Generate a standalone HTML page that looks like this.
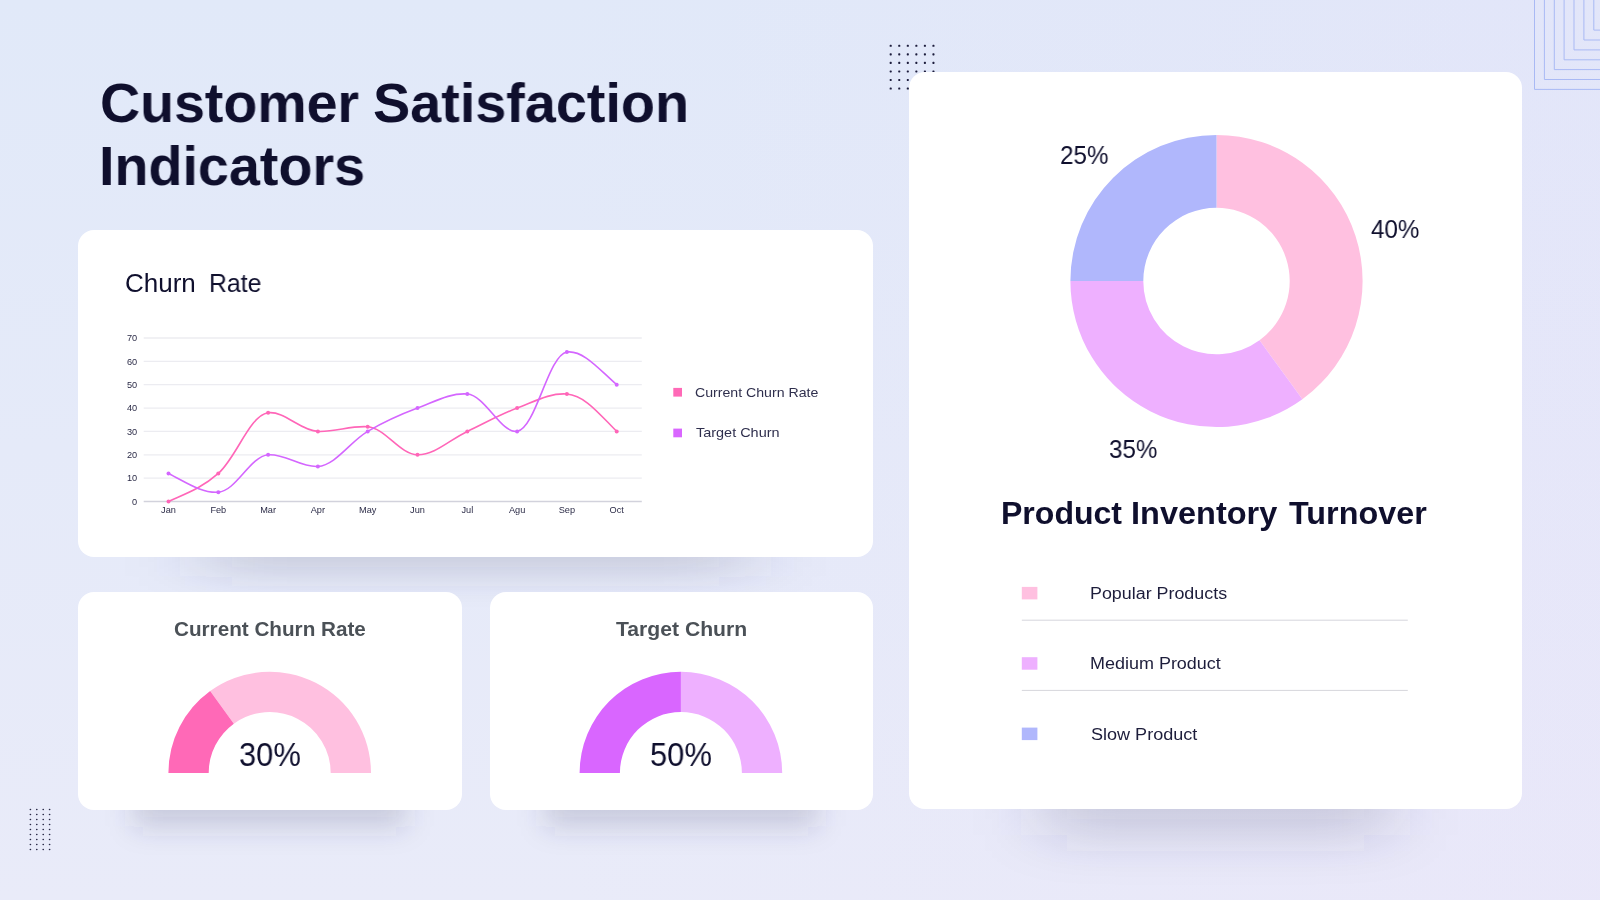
<!DOCTYPE html>
<html><head><meta charset="utf-8"><title>Customer Satisfaction Indicators</title>
<style>
html,body{margin:0;padding:0}
body{width:1600px;height:900px;overflow:hidden;position:relative;font-family:"Liberation Sans",sans-serif;
background:linear-gradient(90deg,rgba(235,200,250,0) 0%,rgba(235,200,250,0) 35%,rgba(235,200,250,.10) 100%),linear-gradient(180deg,#e1e9f9 0%,#e9ebf9 100%);color:#0f0f2d}
.card{position:absolute;background:#fff;border-radius:16px}
.t{position:absolute;white-space:nowrap;line-height:1;transform-origin:0 0;will-change:transform}
svg{position:absolute;left:0;top:0;will-change:transform}
</style></head><body>
<svg width="1600" height="900" viewBox="0 0 1600 900">
<defs><filter id="sh0" filterUnits="userSpaceOnUse" x="0" y="406" width="1600" height="400"><feGaussianBlur stdDeviation="40 15"/></filter><filter id="sh1" filterUnits="userSpaceOnUse" x="0" y="659" width="1600" height="400"><feGaussianBlur stdDeviation="14 14"/></filter><filter id="sh2" filterUnits="userSpaceOnUse" x="0" y="659" width="1600" height="400"><feGaussianBlur stdDeviation="14 14"/></filter><filter id="sh3" filterUnits="userSpaceOnUse" x="0" y="659" width="1600" height="400"><feGaussianBlur stdDeviation="34 24"/></filter></defs><rect x="206.0" y="486.5" width="539.0" height="90.0" fill="rgb(60,62,100)" fill-opacity="0.155" filter="url(#sh0)"/><rect x="134.0" y="739.5" width="271.5" height="87.0" fill="rgb(60,62,100)" fill-opacity="0.185" filter="url(#sh1)"/><rect x="545.5" y="739.5" width="271.5" height="87.0" fill="rgb(60,62,100)" fill-opacity="0.185" filter="url(#sh2)"/><rect x="1044.0" y="739.2" width="343.0" height="96.0" fill="rgb(60,62,100)" fill-opacity="0.18" filter="url(#sh3)"/>
<g fill="none" stroke="#a9b9f4" stroke-width="1"><path d="M1534.5,0V89.4H1600"/><path d="M1544.4,0V79.5H1600"/><path d="M1554.3,0V69.6H1600"/><path d="M1564.1,0V59.8H1600"/><path d="M1574.0,0V49.9H1600"/><path d="M1583.9,0V40.0H1600"/><path d="M1593.8,0V30.1H1600"/></g>
<g fill="#1c1c3c"><rect x="889.65" y="44.75" width="2.1" height="2.1" rx="0.7"/><rect x="889.65" y="53.30" width="2.1" height="2.1" rx="0.7"/><rect x="889.65" y="61.85" width="2.1" height="2.1" rx="0.7"/><rect x="889.65" y="70.40" width="2.1" height="2.1" rx="0.7"/><rect x="889.65" y="78.95" width="2.1" height="2.1" rx="0.7"/><rect x="889.65" y="87.50" width="2.1" height="2.1" rx="0.7"/><rect x="898.20" y="44.75" width="2.1" height="2.1" rx="0.7"/><rect x="898.20" y="53.30" width="2.1" height="2.1" rx="0.7"/><rect x="898.20" y="61.85" width="2.1" height="2.1" rx="0.7"/><rect x="898.20" y="70.40" width="2.1" height="2.1" rx="0.7"/><rect x="898.20" y="78.95" width="2.1" height="2.1" rx="0.7"/><rect x="898.20" y="87.50" width="2.1" height="2.1" rx="0.7"/><rect x="906.75" y="44.75" width="2.1" height="2.1" rx="0.7"/><rect x="906.75" y="53.30" width="2.1" height="2.1" rx="0.7"/><rect x="906.75" y="61.85" width="2.1" height="2.1" rx="0.7"/><rect x="906.75" y="70.40" width="2.1" height="2.1" rx="0.7"/><rect x="906.75" y="78.95" width="2.1" height="2.1" rx="0.7"/><rect x="906.75" y="87.50" width="2.1" height="2.1" rx="0.7"/><rect x="915.30" y="44.75" width="2.1" height="2.1" rx="0.7"/><rect x="915.30" y="53.30" width="2.1" height="2.1" rx="0.7"/><rect x="915.30" y="61.85" width="2.1" height="2.1" rx="0.7"/><rect x="915.30" y="70.40" width="2.1" height="2.1" rx="0.7"/><rect x="915.30" y="78.95" width="2.1" height="2.1" rx="0.7"/><rect x="915.30" y="87.50" width="2.1" height="2.1" rx="0.7"/><rect x="923.85" y="44.75" width="2.1" height="2.1" rx="0.7"/><rect x="923.85" y="53.30" width="2.1" height="2.1" rx="0.7"/><rect x="923.85" y="61.85" width="2.1" height="2.1" rx="0.7"/><rect x="923.85" y="70.40" width="2.1" height="2.1" rx="0.7"/><rect x="923.85" y="78.95" width="2.1" height="2.1" rx="0.7"/><rect x="923.85" y="87.50" width="2.1" height="2.1" rx="0.7"/><rect x="932.40" y="44.75" width="2.1" height="2.1" rx="0.7"/><rect x="932.40" y="53.30" width="2.1" height="2.1" rx="0.7"/><rect x="932.40" y="61.85" width="2.1" height="2.1" rx="0.7"/><rect x="932.40" y="70.40" width="2.1" height="2.1" rx="0.7"/><rect x="932.40" y="78.95" width="2.1" height="2.1" rx="0.7"/><rect x="932.40" y="87.50" width="2.1" height="2.1" rx="0.7"/></g>
<g fill="#2a2a48"><rect x="29.55" y="808.65" width="1.7" height="1.7" rx="0.8"/><rect x="29.55" y="813.65" width="1.7" height="1.7" rx="0.8"/><rect x="29.55" y="818.65" width="1.7" height="1.7" rx="0.8"/><rect x="29.55" y="823.65" width="1.7" height="1.7" rx="0.8"/><rect x="29.55" y="828.65" width="1.7" height="1.7" rx="0.8"/><rect x="29.55" y="833.65" width="1.7" height="1.7" rx="0.8"/><rect x="29.55" y="838.65" width="1.7" height="1.7" rx="0.8"/><rect x="29.55" y="843.65" width="1.7" height="1.7" rx="0.8"/><rect x="29.55" y="848.65" width="1.7" height="1.7" rx="0.8"/><rect x="35.95" y="808.65" width="1.7" height="1.7" rx="0.8"/><rect x="35.95" y="813.65" width="1.7" height="1.7" rx="0.8"/><rect x="35.95" y="818.65" width="1.7" height="1.7" rx="0.8"/><rect x="35.95" y="823.65" width="1.7" height="1.7" rx="0.8"/><rect x="35.95" y="828.65" width="1.7" height="1.7" rx="0.8"/><rect x="35.95" y="833.65" width="1.7" height="1.7" rx="0.8"/><rect x="35.95" y="838.65" width="1.7" height="1.7" rx="0.8"/><rect x="35.95" y="843.65" width="1.7" height="1.7" rx="0.8"/><rect x="35.95" y="848.65" width="1.7" height="1.7" rx="0.8"/><rect x="42.35" y="808.65" width="1.7" height="1.7" rx="0.8"/><rect x="42.35" y="813.65" width="1.7" height="1.7" rx="0.8"/><rect x="42.35" y="818.65" width="1.7" height="1.7" rx="0.8"/><rect x="42.35" y="823.65" width="1.7" height="1.7" rx="0.8"/><rect x="42.35" y="828.65" width="1.7" height="1.7" rx="0.8"/><rect x="42.35" y="833.65" width="1.7" height="1.7" rx="0.8"/><rect x="42.35" y="838.65" width="1.7" height="1.7" rx="0.8"/><rect x="42.35" y="843.65" width="1.7" height="1.7" rx="0.8"/><rect x="42.35" y="848.65" width="1.7" height="1.7" rx="0.8"/><rect x="48.75" y="808.65" width="1.7" height="1.7" rx="0.8"/><rect x="48.75" y="813.65" width="1.7" height="1.7" rx="0.8"/><rect x="48.75" y="818.65" width="1.7" height="1.7" rx="0.8"/><rect x="48.75" y="823.65" width="1.7" height="1.7" rx="0.8"/><rect x="48.75" y="828.65" width="1.7" height="1.7" rx="0.8"/><rect x="48.75" y="833.65" width="1.7" height="1.7" rx="0.8"/><rect x="48.75" y="838.65" width="1.7" height="1.7" rx="0.8"/><rect x="48.75" y="843.65" width="1.7" height="1.7" rx="0.8"/><rect x="48.75" y="848.65" width="1.7" height="1.7" rx="0.8"/></g>
</svg>
<div class="card" style="left:78px;top:230px;width:795px;height:326.5px"></div>
<div class="card" style="left:78px;top:591.5px;width:383.5px;height:218px"></div>
<div class="card" style="left:489.5px;top:591.5px;width:383.5px;height:218px"></div>
<div class="card" style="left:909px;top:71.5px;width:613px;height:737.7px"></div>

<svg width="1600" height="900" viewBox="0 0 1600 900">
<g stroke="#ececf1" stroke-width="1.3"><line x1="143.7" x2="641.8" y1="478.14" y2="478.14"/><line x1="143.7" x2="641.8" y1="454.78" y2="454.78"/><line x1="143.7" x2="641.8" y1="431.42" y2="431.42"/><line x1="143.7" x2="641.8" y1="408.06" y2="408.06"/><line x1="143.7" x2="641.8" y1="384.70" y2="384.70"/><line x1="143.7" x2="641.8" y1="361.34" y2="361.34"/><line x1="143.7" x2="641.8" y1="337.98" y2="337.98"/></g>
<line x1="143.7" x2="641.8" y1="501.5" y2="501.5" stroke="#d2d2dc" stroke-width="1.5"/>
<g font-size="9.2" fill="#2b2b47" font-family="Liberation Sans, sans-serif"><text x="137.2" y="504.80" text-anchor="end">0</text><text x="137.2" y="481.44" text-anchor="end">10</text><text x="137.2" y="458.08" text-anchor="end">20</text><text x="137.2" y="434.72" text-anchor="end">30</text><text x="137.2" y="411.36" text-anchor="end">40</text><text x="137.2" y="388.00" text-anchor="end">50</text><text x="137.2" y="364.64" text-anchor="end">60</text><text x="137.2" y="341.28" text-anchor="end">70</text><text x="168.50" y="513.0" text-anchor="middle">Jan</text><text x="218.30" y="513.0" text-anchor="middle">Feb</text><text x="268.10" y="513.0" text-anchor="middle">Mar</text><text x="317.90" y="513.0" text-anchor="middle">Apr</text><text x="367.70" y="513.0" text-anchor="middle">May</text><text x="417.50" y="513.0" text-anchor="middle">Jun</text><text x="467.30" y="513.0" text-anchor="middle">Jul</text><text x="517.10" y="513.0" text-anchor="middle">Agu</text><text x="566.90" y="513.0" text-anchor="middle">Sep</text><text x="616.70" y="513.0" text-anchor="middle">Oct</text></g>
<path d="M168.50,501.50C186.10,493.50 201.65,488.31 218.30,473.47C236.84,456.95 249.35,415.74 268.10,412.73C284.55,410.69 300.12,430.55 317.90,431.42C335.31,432.24 350.50,425.44 367.70,426.75C385.69,428.24 399.79,454.49 417.50,454.78C434.98,455.06 449.70,439.67 467.30,431.42C484.90,423.16 499.32,414.73 517.10,408.06C534.51,401.52 549.86,392.77 566.90,394.04C585.05,395.57 599.10,413.85 616.70,431.42" fill="none" stroke="#ff66b8" stroke-width="1.6"/>
<path d="M168.50,473.47C186.10,482.25 201.17,493.19 218.30,492.16C236.37,490.95 249.92,456.47 268.10,454.78C285.11,453.39 300.82,467.74 317.90,466.46C336.01,464.94 349.80,441.91 367.70,431.42C384.99,421.28 399.72,414.73 417.50,408.06C434.91,401.52 450.26,392.77 467.30,394.04C485.45,395.57 500.71,433.43 517.10,431.42C535.90,428.39 547.97,355.43 566.90,352.00C583.16,349.82 599.10,369.33 616.70,384.70" fill="none" stroke="#d466ff" stroke-width="1.6"/>
<g fill="#ff66b8"><circle cx="168.50" cy="501.50" r="2.00"/><circle cx="218.30" cy="473.47" r="2.00"/><circle cx="268.10" cy="412.73" r="2.00"/><circle cx="317.90" cy="431.42" r="2.00"/><circle cx="367.70" cy="426.75" r="2.00"/><circle cx="417.50" cy="454.78" r="2.00"/><circle cx="467.30" cy="431.42" r="2.00"/><circle cx="517.10" cy="408.06" r="2.00"/><circle cx="566.90" cy="394.04" r="2.00"/><circle cx="616.70" cy="431.42" r="2.00"/></g>
<g fill="#d466ff"><circle cx="168.50" cy="473.47" r="2.00"/><circle cx="218.30" cy="492.16" r="2.00"/><circle cx="268.10" cy="454.78" r="2.00"/><circle cx="317.90" cy="466.46" r="2.00"/><circle cx="367.70" cy="431.42" r="2.00"/><circle cx="417.50" cy="408.06" r="2.00"/><circle cx="467.30" cy="394.04" r="2.00"/><circle cx="517.10" cy="431.42" r="2.00"/><circle cx="566.90" cy="352.00" r="2.00"/><circle cx="616.70" cy="384.70" r="2.00"/></g>
<rect x="673.3" y="387.9" width="8.7" height="8.7" fill="#ff69b7"/>
<rect x="673.3" y="428.6" width="8.7" height="8.7" fill="#d966ff"/>
<path fill="#ffc0e0" d="M210.16,691.05A101.30,101.30 0 0 1 371.00,773.00L330.70,773.00A61.00,61.00 0 0 0 233.85,723.65Z"/><path fill="#ff69b7" d="M168.40,773.00A101.30,101.30 0 0 1 210.16,691.05L233.85,723.65A61.00,61.00 0 0 0 208.70,773.00Z"/><path fill="#eeb0ff" d="M680.90,671.70A101.30,101.30 0 0 1 782.20,773.00L741.90,773.00A61.00,61.00 0 0 0 680.90,712.00Z"/><path fill="#d966ff" d="M579.60,773.00A101.30,101.30 0 0 1 680.90,671.70L680.90,712.00A61.00,61.00 0 0 0 619.90,773.00Z"/>
<path fill="#ffc0e0" d="M1216.50,134.90A146.10,146.10 0 0 1 1302.38,399.20L1259.53,340.22A73.20,73.20 0 0 0 1216.50,207.80Z"/><path fill="#eeb0ff" d="M1302.38,399.20A146.10,146.10 0 0 1 1070.40,281.00L1143.30,281.00A73.20,73.20 0 0 0 1259.53,340.22Z"/><path fill="#b0b7fc" d="M1070.40,281.00A146.10,146.10 0 0 1 1216.50,134.90L1216.50,207.80A73.20,73.20 0 0 0 1143.30,281.00Z"/>
<rect x="1021.8" y="586.9" width="15.6" height="12.5" fill="#ffc0e0"/>
<rect x="1021.8" y="657.2" width="15.6" height="12.5" fill="#eeb0ff"/>
<rect x="1021.8" y="727.6" width="15.6" height="12.5" fill="#b0b7fc"/>
<line x1="1021.8" x2="1407.8" y1="620.2" y2="620.2" stroke="#d6d6dc" stroke-width="1"/>
<line x1="1021.8" x2="1407.8" y1="690.4" y2="690.4" stroke="#d6d6dc" stroke-width="1"/>
</svg>
<div class="t" id="h1a1" style="left:99.60px;top:74.90px;font-size:56px;font-weight:700;color:#0f0f2d;transform:scaleX(0.9911)">Customer</div>
<div class="t" id="h1a2" style="left:372.50px;top:74.90px;font-size:56px;font-weight:700;color:#0f0f2d;transform:scaleX(0.9955)">Satisfaction</div>
<div class="t" id="h1b" style="left:98.80px;top:137.60px;font-size:56px;font-weight:700;color:#0f0f2d;transform:scaleX(0.9939)">Indicators</div>
<div class="t" id="ch1" style="left:125.40px;top:269.69px;font-size:26px;font-weight:400;color:#0f0f2d;transform:scaleX(0.9971)">Churn</div>
<div class="t" id="ch2" style="left:208.60px;top:269.69px;font-size:26px;font-weight:400;color:#0f0f2d;transform:scaleX(0.9538)">Rate</div>
<div class="t" id="lg1" style="left:694.80px;top:386.37px;font-size:13.5px;font-weight:400;color:#2f2f4d;transform:scaleX(1.0466)">Current Churn Rate</div>
<div class="t" id="lg2" style="left:696.00px;top:425.97px;font-size:13.5px;font-weight:400;color:#2f2f4d;transform:scaleX(1.0702)">Target Churn</div>
<div class="t" id="gt1" style="left:173.80px;top:619.27px;font-size:20.0px;font-weight:700;color:#4b5157;transform:scaleX(1.0337)">Current Churn Rate</div>
<div class="t" id="gt2" style="left:616.20px;top:619.27px;font-size:20.0px;font-weight:700;color:#4b5157;transform:scaleX(1.0569)">Target Churn</div>
<div class="t" id="gv1" style="left:239.10px;top:739.39px;font-size:32.5px;font-weight:400;color:#0f0f2d;transform:scaleX(0.9493)">30%</div>
<div class="t" id="gv2" style="left:650.40px;top:739.39px;font-size:32.5px;font-weight:400;color:#0f0f2d;transform:scaleX(0.9508)">50%</div>
<div class="t" id="p25" style="left:1060.20px;top:143.33px;font-size:25.25px;font-weight:400;color:#0f0f2d;transform:scaleX(0.9614)">25%</div>
<div class="t" id="p40" style="left:1370.60px;top:217.13px;font-size:25.25px;font-weight:400;color:#0f0f2d;transform:scaleX(0.9580)">40%</div>
<div class="t" id="p35" style="left:1109.00px;top:436.63px;font-size:25.25px;font-weight:400;color:#0f0f2d;transform:scaleX(0.9592)">35%</div>
<div class="t" id="pit1" style="left:1001.00px;top:497.68px;font-size:30.5px;font-weight:700;color:#0f0f2d;transform:scaleX(1.0504)">Product</div>
<div class="t" id="pit2" style="left:1130.80px;top:497.68px;font-size:30.5px;font-weight:700;color:#0f0f2d;transform:scaleX(1.0659)">Inventory</div>
<div class="t" id="pit3" style="left:1288.80px;top:497.68px;font-size:30.5px;font-weight:700;color:#0f0f2d;transform:scaleX(1.0600)">Turnover</div>
<div class="t" id="l1" style="left:1090.20px;top:584.70px;font-size:17.25px;font-weight:400;color:#1d1d3b;transform:scaleX(1.0359)">Popular Products</div>
<div class="t" id="l2" style="left:1090.20px;top:654.70px;font-size:17.25px;font-weight:400;color:#1d1d3b;transform:scaleX(1.0416)">Medium Product</div>
<div class="t" id="l3" style="left:1090.80px;top:725.50px;font-size:17.25px;font-weight:400;color:#1d1d3b;transform:scaleX(1.0456)">Slow Product</div>

</body></html>
